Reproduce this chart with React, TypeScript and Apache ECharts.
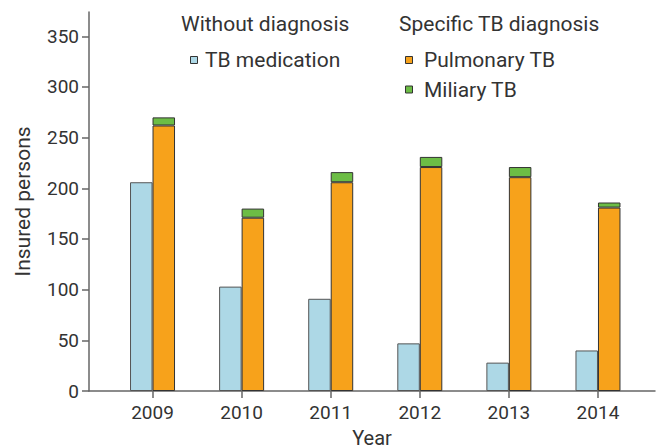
import React, { useEffect, useRef } from "react";
import * as echarts from "echarts";

const years = [2009, 2010, 2011, 2012, 2013, 2014];
const tbMedication = [206, 103, 91, 47, 28, 40];
const pulmonaryTB = [262, 171, 206, 221, 211, 181];
const miliaryTB = [8, 9, 10, 10, 10, 5];
const yTicks = [0, 50, 100, 150, 200, 250, 300, 350];

const FONT = "Roboto";
const TEXT = "#333333";
const AXIS = "#666666";
const BLUE = "#ADD8E6";
const ORANGE = "#F7A21B";
const GREEN = "#6CBD45";

export default function App() {
  const ref = useRef<HTMLDivElement>(null);
  useEffect(() => {
    if (!ref.current) return;
    document.body.style.margin = "0";
    document.body.style.overflow = "hidden";
    const chart = echarts.init(ref.current, undefined, { renderer: "svg" });
    // value first so that it is the stacked dimension; year mapped to x via encode
    const pair = (arr: number[]) => years.map((y, i) => [arr[i], y]);
    const legendSquare = (x: number, y: number, color: string) => ({
      type: "rect",
      shape: { x, y, width: 7, height: 7 },
      style: { fill: color, stroke: "#333", lineWidth: 1 },
    });
    const legendText = (x: number, y: number, text: string, size = 21) => ({
      type: "text",
      x,
      y,
      style: {
        text,
        fill: TEXT,
        font: `${size}px ${FONT}`,
        textAlign: "left",
        textVerticalAlign: "middle",
      },
    });
    const barCommon = {
      type: "bar",
      barWidth: 22.5,
      barGap: "0%",
      encode: { x: 1, y: 0 },
    };
    chart.setOption({
      animation: false,
      backgroundColor: "#ffffff",
      textStyle: { fontFamily: FONT },
      grid: {
        left: 89,
        right: 5,
        top: 12,
        bottom: 56,
        containLabel: false,
        outerBoundsMode: "none",
      },
      xAxis: {
        type: "value",
        min: 2008.287,
        max: 2014.64,
        name: "Year",
        nameLocation: "middle",
        nameGap: 32,
        nameTextStyle: { fontSize: 20, lineHeight: 22, color: TEXT, fontFamily: FONT },
        axisLine: { show: true, lineStyle: { color: AXIS, width: 1.5 } },
        axisTick: {
          show: true,
          length: 7,
          customValues: years,
          lineStyle: { color: AXIS, width: 1.5 },
        },
        axisLabel: {
          customValues: years,
          formatter: (v: number) => String(v),
          fontSize: 19,
          color: TEXT,
          margin: 12,
          fontFamily: FONT,
        },
        splitLine: { show: false },
      },
      yAxis: {
        type: "value",
        min: 0,
        max: 374,
        name: "Insured persons",
        nameLocation: "middle",
        nameGap: 56,
        nameTextStyle: { fontSize: 21, color: TEXT, fontFamily: FONT },
        axisLine: { show: true, lineStyle: { color: AXIS, width: 1.5 } },
        axisTick: {
          show: true,
          length: 7,
          customValues: yTicks,
          lineStyle: { color: AXIS, width: 1.5 },
        },
        axisLabel: {
          customValues: yTicks,
          fontSize: 19,
          color: TEXT,
          margin: 10,
          fontFamily: FONT,
        },
        splitLine: { show: false },
      },
      series: [
        {
          ...barCommon,
          name: "TB medication",
          stack: "without",
          data: pair(tbMedication),
          itemStyle: { color: BLUE, borderColor: "#555", borderWidth: 1 },
        },
        {
          ...barCommon,
          name: "Pulmonary TB",
          stack: "specific",
          data: pair(pulmonaryTB),
          itemStyle: { color: ORANGE, borderColor: "#333", borderWidth: 1 },
        },
        {
          ...barCommon,
          name: "Miliary TB",
          stack: "specific",
          data: pair(miliaryTB),
          itemStyle: { color: GREEN, borderColor: "#333", borderWidth: 1 },
        },
      ],
      graphic: [
        legendText(181, 24, "Without diagnosis"),
        legendText(399, 24, "Specific TB diagnosis"),
        legendSquare(190.5, 56.5, BLUE),
        legendText(205, 60, "TB medication"),
        legendSquare(405.5, 56.5, ORANGE),
        legendText(424, 60, "Pulmonary TB"),
        legendSquare(405.5, 86, GREEN),
        legendText(424, 89.5, "Miliary TB"),
      ],
    });
    return () => chart.dispose();
  }, []);
  return (
    <div
      ref={ref}
      style={{ position: "absolute", left: 0, top: 0, width: 660, height: 447 }}
    />
  );
}
